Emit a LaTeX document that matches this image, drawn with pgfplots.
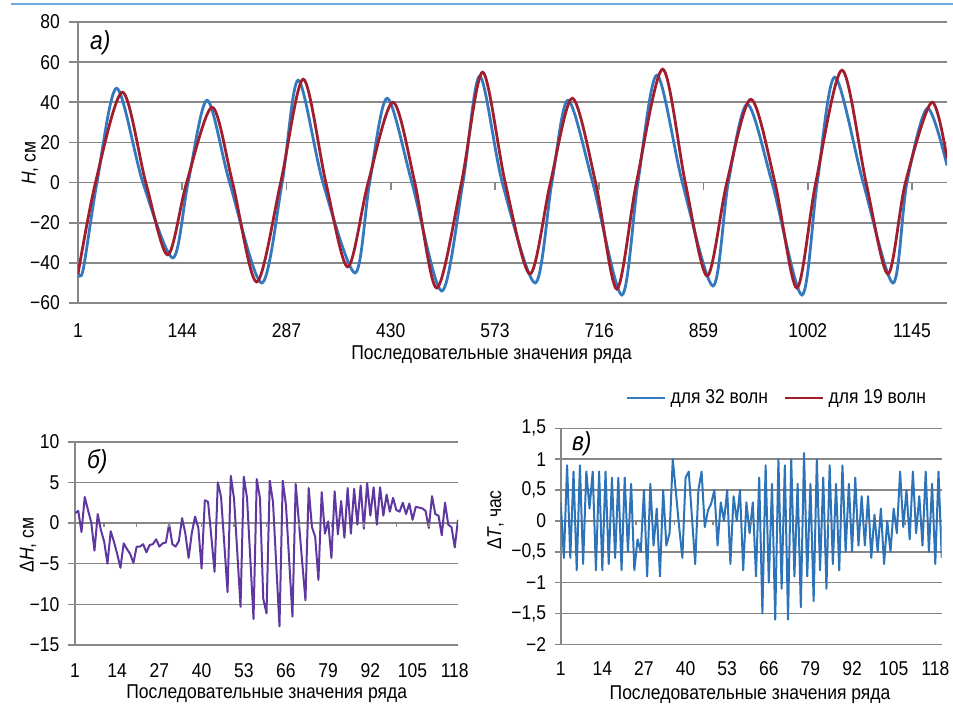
\documentclass[border=0pt]{standalone}
\usepackage{fontspec}
\setmainfont[FakeStretch=0.875]{Liberation Sans}
\usepackage{pgfplots}
\pgfplotsset{compat=1.18}

\definecolor{gridgray}{RGB}{135,135,135}
\definecolor{topline}{RGB}{110,170,225}
\definecolor{wblue}{RGB}{52,120,190}
\definecolor{wred}{RGB}{160,30,45}
\definecolor{dhpurple}{RGB}{95,55,160}
\definecolor{dtblue}{RGB}{45,115,185}

\pgfplotsset{
  panel/.style={
    scale only axis, anchor=south west,
    axis x line*=bottom, axis y line*=left,
    x axis line style={draw=none},
    y axis line style={gridgray, line width=0.8pt},
    ymajorgrids, grid style={gridgray, line width=0.8pt},
    tick align=outside,
    major x tick style={draw=none},
    major y tick style={gridgray, line width=0.8pt},
    tick label style={black},
    xticklabel style={anchor=north, text height=1.6ex, text depth=0.2ex, yshift=-1pt},
    yticklabel style={xshift=-1pt},
  }
}

\begin{document}
\begin{tikzpicture}
\useasboundingbox (0,0) rectangle (476.5pt,-351.5pt);
\draw[topline, line width=1.2pt] (5.5pt,-2pt) -- (476.5pt,-2pt);

% а) уровень
\begin{axis}[panel,
  at={(39pt,-151.5pt)}, width=434.5pt, height=140.5pt,
  xmin=1, xmax=1193, ymin=-60, ymax=80,
  xtick={1,144,287,430,573,716,859,1002,1145},
  xticklabels={1,144,287,430,573,716,859,1002,1145},
  ytick={-60,-40,...,80},
  yticklabels={−60,−40,−20,0,20,40,60,80},
  major tick length=4.5pt,
  ylabel={\textit{H}, см},
  ylabel style={at={(axis description cs:-0.0552,0.498)}, anchor=center},
  xlabel={Последовательные значения ряда},
  xlabel style={at={(axis description cs:0.476,-0.185)}, anchor=center},
  legend columns=2,
  legend style={at={(axis description cs:0.981,-0.338)}, anchor=east,
    draw=none, fill=none, inner sep=0pt,
    /tikz/every even column/.append style={column sep=6pt}},
  legend image code/.code={\draw[#1, line width=1.3pt] (0pt,0pt) -- (19pt,0pt);},
]
\addplot[wblue, line width=1.4pt, smooth, no marks] coordinates {
 (1,-45) (8,-43.5) (27,0) (54,47) (90,0) (131,-37.5) (152,0) (178,41)
 (209,0) (253,-50) (281,0) (303,51) (337,0) (381,-45) (401,0) (425,42)
 (459,0) (500,-54) (529,0) (552,53) (583,0) (628,-50) (651,0) (673,41)
 (707,0) (747,-56) (769,0) (795,53.5) (830,0) (872,-51.5) (893,0) (919,39)
 (953,0) (994,-56) (1015,0) (1039,52.5) (1078,0) (1119,-50) (1138,0)
 (1166,37) (1193,8.5)
};
\addlegendentry{для 32 волн}
\addplot[wred, line width=1.4pt, smooth, no marks] coordinates {
 (1,-45.5) (25,0) (62,45) (94,0) (124,-36) (150,0) (185,37.5)
 (213,0) (246,-49.5) (279,0) (310,51.5) (341,0) (371,-42) (399,0) (433,40)
 (463,0) (493,-52.5) (527,0) (556,55) (587,0) (621,-45.5) (649,0) (679,42)
 (711,0) (740,-53) (767,0) (803,56.5) (834,0) (864,-46.5) (891,0) (924,41.5)
 (957,0) (987,-52.5) (1013,0) (1049,56) (1082,0) (1112,-45.5) (1136,0)
 (1172,40) (1193,12)
};
\addlegendentry{для 19 волн}
\pgfplotsinvokeforeach{144,287,430,573,716,859,1002,1145}{
  \draw[gridgray, line width=0.8pt] (axis cs:#1,0) -- ++(0pt,-3.5pt);}
\node[anchor=west] at (axis description cs:0.0058,0.925)
  {\fontsize{13}{15}\selectfont\textit{а)}};
\end{axis}

% б) разность уровней
\begin{axis}[panel,
  at={(37.5pt,-322.5pt)}, width=191.5pt, height=101.65pt,
  xmin=1, xmax=119, ymin=-15, ymax=10,
  xtick={1,14,...,118},
  xticklabels={1,14,27,40,53,66,79,92,105,118},
  ytick={-15,-10,...,10},
  yticklabels={−15,−10,−5,0,5,10},
  major tick length=3.3pt,
  ylabel={Δ\textit{H}, см},
  ylabel style={at={(axis description cs:-0.1227,0.492)}, anchor=center},
  xlabel={Последовательные значения ряда},
  xlabel style={at={(axis description cs:0.5005,-0.237)}, anchor=center},
]
\addplot[dhpurple, line width=1pt, no marks, line join=round] coordinates {
 (1,1.2) (2,1.5) (3,-1.1) (4,3.2) (5,1.6) (6,0.1) (7,-3.4) (8,1.1)
 (9,-0.9) (10,-2.3) (11,-5.0) (12,-1.0) (13,-2.3) (14,-3.8) (15,-5.5)
 (16,-2.5) (17,-3.2) (18,-3.8) (19,-4.9) (20,-2.9) (21,-2.9) (22,-2.6)
 (23,-3.6) (24,-2.7) (25,-2.6) (26,-2.0) (27,-2.9) (28,-2.5) (29,-2.4)
 (30,-0.1) (31,-2.6) (32,-2.9) (33,-2.2) (34,0.6) (35,-1.3) (36,-4.3)
 (37,-1.2) (38,0.8) (39,-0.6) (40,-5.6) (41,2.8) (42,2.6) (43,-1.7)
 (44,-6.0) (45,5.0) (46,3.2) (47,-2.6) (48,-8.5) (49,5.8) (50,3.0)
 (51,-3.6) (52,-10.3) (53,5.7) (54,3.1) (55,-4.3) (56,-11.8) (57,5.4)
 (58,3.0) (59,-9.3) (60,-11.1) (61,5.2) (62,2.6) (63,-5.1) (64,-12.7)
 (65,5.2) (66,2.2) (67,-4.7) (68,-11.5) (69,4.8) (70,0.0) (71,-4.8)
 (72,-9.5) (73,4.3) (74,-0.5) (75,-1.7) (76,-7.0) (77,3.8) (78,-1.3)
 (79,0.2) (80,-4.3) (81,3.9) (82,-1.4) (83,2.7) (84,-1.8) (85,4.3)
 (86,-1.3) (87,4.2) (88,-0.2) (89,4.6) (90,-0.7) (91,4.9) (92,0.9)
 (93,4.4) (94,-0.2) (95,4.4) (96,0.9) (97,3.5) (98,1.4) (99,3.1)
 (100,1.6) (101,1.4) (102,2.5) (103,1.1) (104,2.4) (105,0.4) (106,2.0)
 (107,1.9) (108,1.8) (109,1.5) (110,-0.6) (111,3.3) (112,1.1) (113,0.9)
 (114,-1.5) (115,2.5) (116,-0.2) (117,-0.5) (118,-3.0) (119,0.4)
};
\pgfplotsinvokeforeach{10,20,...,110}{
  \draw[gridgray, line width=0.8pt] (axis cs:#1,0) -- ++(0pt,-2pt);}
\node[anchor=west] at (axis description cs:0.013,0.9)
  {\fontsize{13}{15}\selectfont\textit{б)}};
\end{axis}

% в) разность времени
\begin{axis}[panel,
  at={(280.35pt,-322.15pt)}, width=190.5pt, height=108pt,
  xmin=1, xmax=120, ymin=-2, ymax=1.5,
  xtick={1,14,...,118},
  xticklabels={1,14,27,40,53,66,79,92,105,118},
  ytick={-2,-1.5,...,1.5},
  yticklabels={{−2},{−1,5},{−1},{−0,5},{0},{0,5},{1},{1,5}},
  major tick length=2.8pt,
  ylabel={Δ\textit{T}, час},
  ylabel style={at={(axis description cs:-0.171,0.575)}, anchor=center},
  xlabel={Последовательные значения ряда},
  xlabel style={at={(axis description cs:0.497,-0.232)}, anchor=center},
]
\addplot[dtblue, line width=1pt, no marks, line join=round] coordinates {
 (1,0.3) (2,-0.6) (3,0.9) (4,-0.6) (5,0.8) (6,-0.8) (7,0.9) (8,-0.7)
 (9,0.8) (10,0.2) (11,0.8) (12,-0.8) (13,0.8) (14,-0.8) (15,0.8) (16,-0.7)
 (17,0.7) (18,-0.6) (19,0.7) (20,-0.8) (21,0.7) (22,-0.5) (23,0.6) (24,-0.8)
 (25,-0.3) (26,-0.5) (27,0.5) (28,-0.9) (29,0.6) (30,-0.4) (31,0.2) (32,-0.9)
 (33,0.5) (34,-0.4) (35,-0.2) (36,1.0) (37,0.45) (38,-0.1) (39,-0.6) (40,0.7)
 (41,0.8) (42,0.05) (43,-0.7) (44,0.5) (45,0.8) (46,-0.1) (47,0.17) (48,0.28)
 (49,0.5) (50,-0.4) (51,0.3) (52,0.0) (53,0.5) (54,-0.7) (55,0.4) (56,0.0)
 (57,0.5) (58,-0.8) (59,0.3) (60,-0.2) (61,0.3) (62,-0.9) (63,0.7) (64,-1.5)
 (65,0.9) (66,-1.0) (67,0.6) (68,-1.6) (69,1.0) (70,-1.1) (71,0.9) (72,-1.6)
 (73,1.0) (74,-0.9) (75,0.6) (76,-1.4) (77,1.1) (78,-0.9) (79,0.6) (80,-1.3)
 (81,1.0) (82,-0.8) (83,0.7) (84,-1.1) (85,0.9) (86,-0.7) (87,0.6) (88,-0.8)
 (89,0.9) (90,-0.5) (91,0.6) (92,-0.5) (93,0.7) (94,-0.4) (95,0.4) (96,-0.4)
 (97,0.4) (98,-0.6) (99,0.1) (100,-0.5) (101,0.2) (102,-0.7) (103,0.0) (104,-0.5)
 (105,0.2) (106,-0.2) (107,0.8) (108,-0.1) (109,0.5) (110,-0.3) (111,0.8) (112,-0.2)
 (113,0.4) (114,-0.4) (115,0.8) (116,-0.5) (117,0.6) (118,-0.7) (119,0.8) (120,-0.6)
};
\pgfplotsinvokeforeach{12.5,24.5,36.5,48.5,60.5,72.5,84.5,96.5,108.5}{
  \draw[gridgray, line width=0.8pt] (axis cs:#1,0) -- ++(0pt,-2pt);}
\node[anchor=west] at (axis description cs:0.0113,0.93)
  {\fontsize{13}{15}\selectfont\textit{в)}};
\end{axis}
\end{tikzpicture}
\end{document}
